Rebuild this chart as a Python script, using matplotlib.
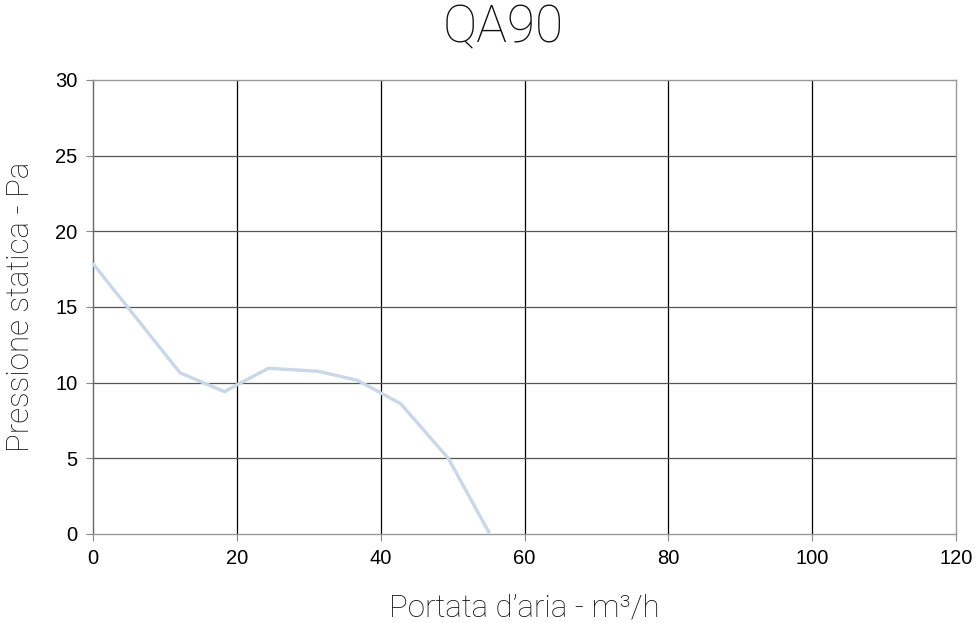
import matplotlib.pyplot as plt

portata = [0.1, 12.1, 18.3, 20.0, 24.4, 31.3, 36.8, 40.1, 42.8, 49.4, 55.0]
pressione = [17.8, 10.65, 9.4, 9.85, 10.95, 10.75, 10.15, 9.3, 8.6, 5.0, 0.15]

x_ticks = [0, 20, 40, 60, 80, 100, 120]
y_ticks = [0, 5, 10, 15, 20, 25, 30]

plt.rcParams['font.family'] = ['Liberation Sans', 'DejaVu Sans']
light = ['Roboto', 'DejaVu Sans']

fig = plt.figure(figsize=(9.75, 6.23), dpi=100)
ax = fig.add_axes([0.0954, 0.1429, 0.8851, 0.7287])

for x in x_ticks[1:-1]:
    ax.axvline(x, color='black', lw=0.9, zorder=1)
for y in y_ticks[1:-1]:
    ax.axhline(y, color='#555555', lw=0.9, zorder=1)

ax.plot(portata, pressione, color='#c9d7e7', lw=2.4, zorder=3, solid_joinstyle='miter')

ax.set_xlim(0, 120)
ax.set_ylim(0, 30)
ax.set_xticks(x_ticks)
ax.set_yticks(y_ticks)
for s in ax.spines.values():
    s.set_color('#999999')
    s.set_linewidth(1.0)
ax.spines['left'].set_color('#666666')
ax.tick_params(direction='out', length=5, color='#888888', labelsize=14.5, pad=6)

fig.text(503 / 975, 1 - 42 / 623, 'QA90', ha='center', va='baseline', fontsize=37,
         family=light, fontweight='light', color='#111111')
ax.set_xlabel("Portata d\u2019aria - m\u00b3/h", fontsize=22.5, family=light, fontweight='light',
              labelpad=18, color='#111111')
ax.set_ylabel('Pressione statica - Pa', fontsize=22.5, family=light, fontweight='light',
              labelpad=15, color='#111111')

fig.savefig('out.png', dpi=100)
